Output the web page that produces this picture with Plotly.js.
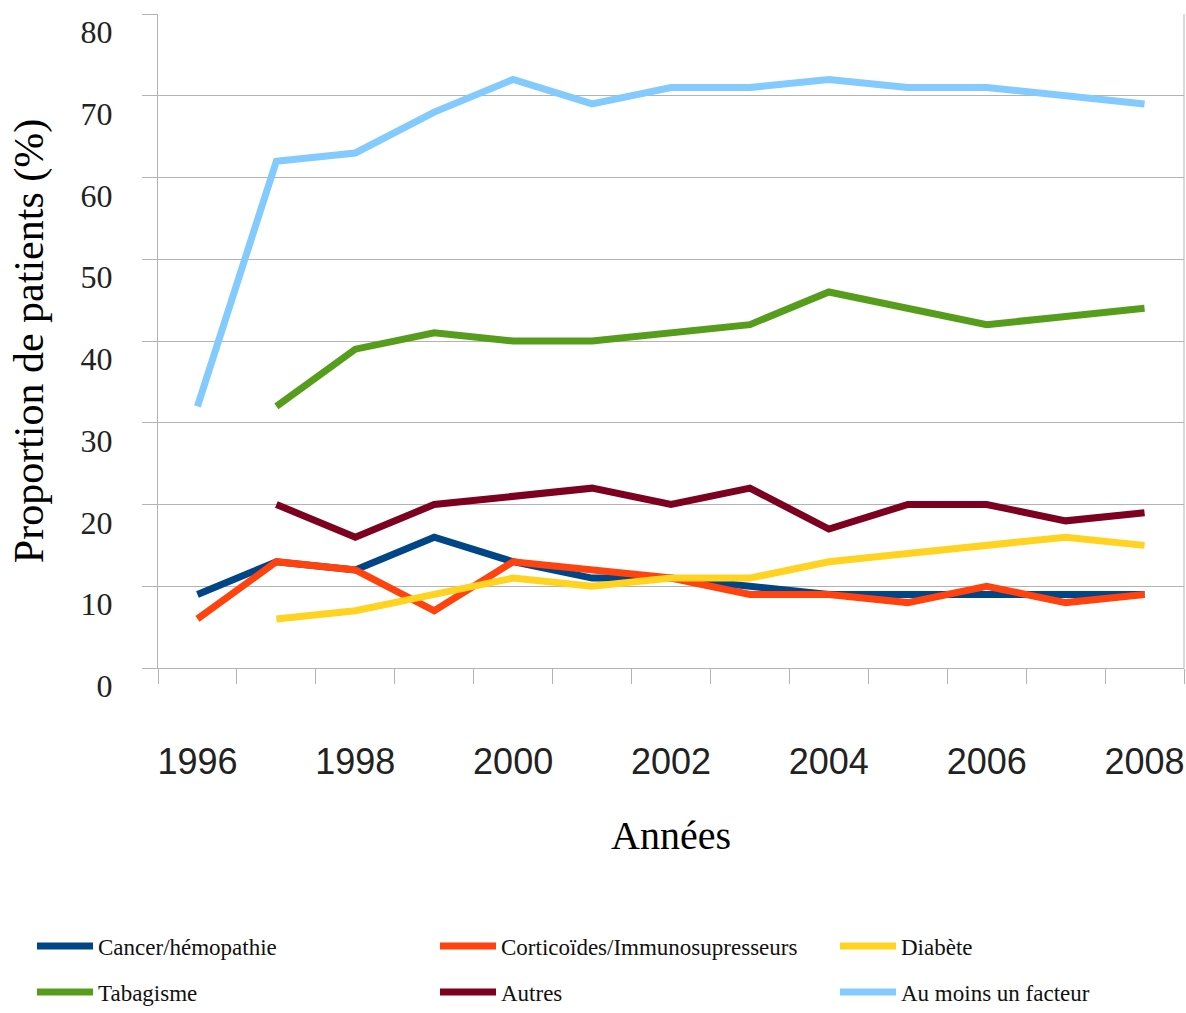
<!DOCTYPE html>
<html>
<head>
<meta charset="utf-8">
<script src="https://cdn.plot.ly/plotly-3.0.1.min.js"></script>
<style>html,body{margin:0;padding:0;background:#fff;}#chart{width:1186px;height:1013px;}</style>
</head>
<body>
<div id="chart"></div>
<script>
const years = [1996,1997,1998,1999,2000,2001,2002,2003,2004,2005,2006,2007,2008];
const xTickYears = [1996,1998,2000,2002,2004,2006,2008];
const yTickVals = [0,10,20,30,40,50,60,70,80];
const cancer  = [9,13,12,16,13,11,11,10,9,9,9,9,9];
const cortico = [6,13,12,7,13,12,11,9,9,8,10,8,9];
const diabete = [null,6,7,9,11,10,11,11,13,14,15,16,15];
const tabac   = [null,32,39,41,40,40,41,42,46,44,42,43,44];
const autres  = [null,20,16,20,21,22,20,22,17,20,20,18,19];
const auMoins = [32,62,63,68,72,69,71,71,72,71,71,70,69];

const seriesNames = ["Cancer/hémopathie","Corticoïdes/Immunosupresseurs","Diabète","Tabagisme","Autres","Au moins un facteur"];
const seriesData = [cancer, cortico, diabete, tabac, autres, auMoins];
const seriesColors = ["#004586","#ff420e","#ffd320","#579d1c","#7e0021","#83caff"];
const legendIds = ["legend","legend2","legend3","legend4","legend5","legend6"];

const traces = seriesData.map((d,i)=>({
  type:'scatter', mode:'lines', x: years, y: d, name: seriesNames[i],
  line:{color: seriesColors[i], width:7},
  connectgaps:false, legend: legendIds[i]
}));

const W = 1186, H = 1013;
const legFont = {family:'"Liberation Serif", "Times New Roman", serif', size:23, color:'#111'};
const legCols = [32, 435, 835];
const legRows = [946, 992];

const layout = {
  width:W, height:H,
  margin:{l:158, r:2, t:14, b:345},
  paper_bgcolor:'#fff', plot_bgcolor:'#fff',
  showlegend:true,
  xaxis:{
    type:'linear', range:[1995.5,2008.5],
    tickmode:'array', tickvals: xTickYears, ticktext: xTickYears.map(String),
    ticks:'', showgrid:false, zeroline:false,
    showline:true, linecolor:'#b3b3b3', linewidth:1,
    tickfont:{family:'"Liberation Sans", Arial, sans-serif', size:36, color:'#222'},
    ticklabelstandoff:62,
    minor:{tick0:1995.5, dtick:1, ticks:'outside', ticklen:15, tickcolor:'#b3b3b3', tickwidth:1, showgrid:false},
    title:{text:'Années', font:{family:'"Liberation Serif", "Times New Roman", serif', size:40, color:'#000'}, standoff:39}
  },
  yaxis:{
    range:[0,80], tickmode:'array', tickvals:yTickVals, ticktext:yTickVals.map(String),
    ticks:'outside', ticklen:15, tickcolor:'#b3b3b3', tickwidth:1,
    showline:true, linecolor:'#b3b3b3', linewidth:1,
    showgrid:true, gridcolor:'#b3b3b3', gridwidth:1, zeroline:false,
    tickfont:{family:'"Liberation Serif", "Times New Roman", serif', size:32, color:'#222'},
    ticklabelshift:18, ticklabelstandoff:23,
    title:{text:'Proportion de patients (%)', font:{family:'"Liberation Serif", "Times New Roman", serif', size:42, color:'#000'}, standoff:23}
  },
  shapes:[{type:'line', xref:'paper', yref:'paper', x0:1, x1:1, y0:0, y1:1, line:{color:'#b3b3b3', width:1}}]
};

legendIds.forEach((id,i)=>{
  layout[id] = {
    orientation:'h', xref:'container', yref:'container',
    x: legCols[i%3]/W, xanchor:'left',
    y: 1 - legRows[Math.floor(i/3)]/H, yanchor:'middle',
    font: legFont, itemwidth:56, bgcolor:'rgba(0,0,0,0)', borderwidth:0
  };
});

Plotly.newPlot('chart', traces, layout, {displayModeBar:false, staticPlot:true});
</script>
</body>
</html>
